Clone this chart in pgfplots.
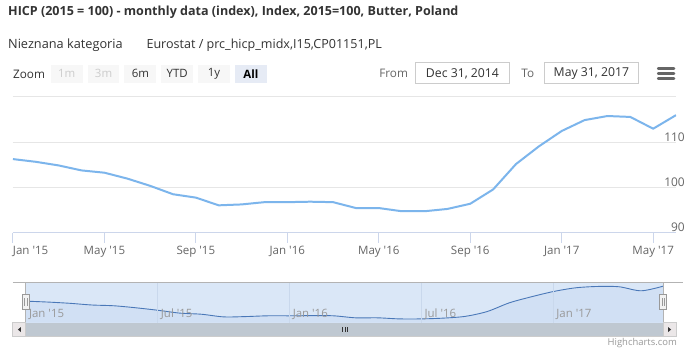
\documentclass[border=0pt]{standalone}
\usepackage{pgfplots}
\pgfplotsset{compat=1.18}
\usepackage{fontspec}
\setmainfont{Open Sans}
\definecolor{ser}{HTML}{7CB5EC}
\definecolor{grid}{HTML}{E6E6E6}
\definecolor{axl}{HTML}{CCD6EB}
\definecolor{c333}{HTML}{333333}
\definecolor{c666}{HTML}{666666}
\definecolor{c999}{HTML}{999999}
\definecolor{cccc}{HTML}{CCCCCC}
\definecolor{btn}{HTML}{F7F7F7}
\definecolor{btnsel}{HTML}{E6EBF5}
\definecolor{navtop}{HTML}{DAE7F7}
\definecolor{navbot}{HTML}{D1E0F4}
\definecolor{navline}{HTML}{4A78B8}
\definecolor{navgrid}{HTML}{C9D8EC}
\definecolor{outl}{HTML}{B3B3B3}
\definecolor{sbar}{HTML}{BFC8D1}
\definecolor{sbtn}{HTML}{EBE7E8}
\newcommand{\q}{\textquotesingle}
\pgfplotstableread{
m v
0 106.3
1 105.7
2 104.9
3 103.8
4 103.3
5 102.0
6 100.4
7 98.55
8 97.8
9 96.1
10 96.3
11 96.8
12 96.8
13 96.9
14 96.8
15 95.5
16 95.5
17 94.8
18 94.8
19 95.3
20 96.45
21 99.6
22 105.2
23 109.1
24 112.5
25 114.9
26 115.8
27 115.6
28 113.0
29 116.0
}\hicp
\begin{document}
\begin{tikzpicture}[x=1pt,y=1pt]
\path[fill=white] (0,0) rectangle (686,354);
% title and subtitle
\node[anchor=west, inner sep=0, text=c333] at (8,354-12) {\fontsize{12.6}{15}\selectfont\bfseries HICP (2015 = 100) - monthly data (index), Index, 2015=100, Butter, Poland};
\node[anchor=west, inner sep=0, text=c333] at (8,354-45) {\fontsize{12.8}{15}\selectfont Nieznana kategoria};
\node[anchor=west, inner sep=0, text=c333] at (147,354-45) {\fontsize{12.6}{15}\selectfont Eurostat / prc\_hicp\_midx,I15,CP01151,PL};
% range selector
\node[anchor=west, inner sep=0, text=c333] at (13,354-75) {\fontsize{11.8}{14}\selectfont Zoom};
\fill[btn] (51,354-83) rectangle (83,354-65);
\node[text=cccc, inner sep=0] at (67,354-74) {\fontsize{11.5}{13}\selectfont 1m};
\fill[btn] (88,354-83) rectangle (120,354-65);
\node[text=cccc, inner sep=0] at (104,354-74) {\fontsize{11.5}{13}\selectfont 3m};
\fill[btn] (125,354-83) rectangle (157,354-65);
\node[text=c333, inner sep=0] at (141,354-74) {\fontsize{11.5}{13}\selectfont 6m};
\fill[btn] (162,354-83) rectangle (194,354-65);
\node[text=c333, inner sep=0] at (178,354-74) {\fontsize{11.5}{13}\selectfont YTD};
\fill[btn] (199,354-83) rectangle (231,354-65);
\node[text=c333, inner sep=0] at (215,354-74) {\fontsize{11.5}{13}\selectfont 1y};
\fill[btnsel] (236,354-83) rectangle (268,354-65);
\node[text=black, inner sep=0] at (252,354-74) {\fontsize{11.5}{13}\selectfont\bfseries All};
% date inputs
\node[anchor=east, inner sep=0, text=c666] at (410,354-74) {\fontsize{11.8}{14}\selectfont From};
\draw[cccc, line width=1pt] (417,354-84) rectangle (512,354-63);
\node[text=c333, inner sep=0] at (464.5,354-74) {\fontsize{12.3}{14}\selectfont Dec 31, 2014};
\node[text=c666, inner sep=0] at (530,354-74) {\fontsize{11.8}{14}\selectfont To};
\draw[cccc, line width=1pt] (547,354-84) rectangle (641,354-63);
\node[text=c333, inner sep=0] at (594,354-74) {\fontsize{12.3}{14}\selectfont May 31, 2017};
% hamburger
\draw[c666, line width=2.6pt, line cap=round] (661,354-69) -- (677,354-69);
\draw[c666, line width=2.6pt, line cap=round] (661,354-74) -- (677,354-74);
\draw[c666, line width=2.6pt, line cap=round] (661,354-79) -- (677,354-79);
% main chart
\begin{axis}[
  at={(13pt,120pt)}, anchor=south west, scale only axis,
  width=666pt, height=136.6pt,
  xmin=0, xmax=29, ymin=90, ymax=120,
  axis x line*=bottom, axis y line*=right,
  y axis line style={draw=none},
  x axis line style={color=axl, line width=1pt},
  ytick={90,100,110,120}, yticklabels={90,100,110,{}},
  ytick style={draw=none},
  ymajorgrids, grid style={color=grid, line width=1pt},
  yticklabel style={anchor=south east, inner sep=1pt, text=c666, font=\fontsize{12}{14}\selectfont},
  xtick={0,4,8,12,16,20,24,28},
  xticklabels={\makebox[0pt][l]{Jan \q15}, May \q15, Sep \q15, Jan \q16, May \q16, Sep \q16, Jan \q17, May \q17},
  tick align=outside, major tick length=10pt,
  xtick style={color=axl, line width=1pt},
  xticklabel style={text=c666, font=\fontsize{11.6}{14}\selectfont, inner sep=1pt, yshift=-2.5pt},
]
\addplot[ser, line width=2pt, line join=round] table[x=m, y=v] {\hicp};
\end{axis}
% navigator
\begin{axis}[
  at={(26pt,30pt)}, anchor=south west, scale only axis,
  width=640pt, height=40pt,
  xmin=0, xmax=29, ymin=92.4, ymax=118.2,
  axis background/.style={fill=navtop},
  axis line style={draw=none},
  ytick=\empty,
  xtick={0,6,12,18,24},
  xticklabels={Jan \q15, Jul \q15, Jan \q16, Jul \q16, Jan \q17},
  xmajorgrids, grid style={color=navgrid, line width=0.8pt},
  xtick style={draw=none},
  xticklabel style={anchor=south west, inner sep=1pt, xshift=2pt, yshift=2pt, text=c999, font=\fontsize{11.5}{13}\selectfont},
  axis on top,
]
\addplot[fill=navbot, draw=none, smooth] table[x=m, y=v] {\hicp} \closedcycle;
\addplot[navline, line width=0.9pt, smooth] table[x=m, y=v] {\hicp};
\end{axis}
% navigator outline
\draw[outl, line width=1pt] (13,354-284) -- (686,354-284);
\draw[outl, line width=1pt] (26,354-284) -- (26,354-324);
\draw[outl, line width=1pt] (666,354-284) -- (666,354-324);
% scrollbar
\fill[sbar] (26,354-338) rectangle (666,354-324);
\draw[cccc, line width=1pt, fill=sbtn] (13,354-338) rectangle (26,354-324);
\draw[cccc, line width=1pt, fill=sbtn] (666,354-338) rectangle (679,354-324);
\draw[cccc, line width=1pt] (13,354-338) -- (679,354-338);
\fill[c333] (18,354-331) -- (21,354-328.5) -- (21,354-333.5) -- cycle;
\fill[c333] (674,354-331) -- (671,354-328.5) -- (671,354-333.5) -- cycle;
\foreach \xx in {344,346.5,349} {\draw[c333, line width=0.8pt] (\xx,354-328.5) -- (\xx,354-333.5);}
% handles
\foreach \hx in {26,666} {
  \draw[c999, line width=0.8pt, fill=white!95!black] (\hx-3.5,354-311) rectangle (\hx+3.5,354-296);
  \draw[c999, line width=0.7pt] (\hx-1.2,354-299.5) -- (\hx-1.2,354-307.5);
  \draw[c999, line width=0.7pt] (\hx+1.2,354-299.5) -- (\hx+1.2,354-307.5);
}
% credits
\node[anchor=east, inner sep=0, text=c999] at (680,354-345) {\fontsize{9.5}{11}\selectfont Highcharts.com};
\end{tikzpicture}
\end{document}
